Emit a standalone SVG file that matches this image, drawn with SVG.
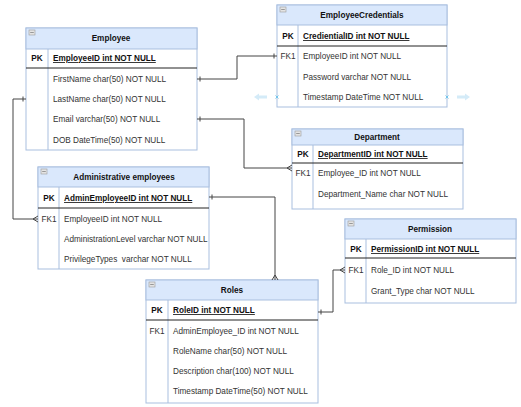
<svg xmlns="http://www.w3.org/2000/svg" width="521" height="407" viewBox="0 0 521 407">
<defs>
<style>
.box{fill:#ffffff;stroke:#a9bfdf;stroke-width:1}
.hdr{fill:#dae8fc;stroke:#a9bfdf;stroke-width:1}
.sep{stroke:#222;stroke-width:1}
.col{stroke:#a9bfdf;stroke-width:1}
.t{font-family:"Liberation Sans",Arial,sans-serif;font-size:8.2px;fill:#333}
.tb{font-family:"Liberation Sans",Arial,sans-serif;font-size:8.2px;font-weight:bold;fill:#111}
.u{text-decoration:underline}
.ic{fill:#e4e4e4;stroke:#9a9a9a;stroke-width:0.6}
.c{fill:none;stroke:#444;stroke-width:1}
.hint{fill:#d4ebf8}
.hx{stroke:#5bbde8;stroke-width:0.8}
</style>
<g id="icon"><rect class="ic" x="0" y="0" width="6" height="5"/><line x1="1.2" y1="2.5" x2="4.8" y2="2.5" stroke="#777" stroke-width="0.7"/></g>
</defs>

<g id="employee">
<rect class="box" x="26" y="28" width="171" height="122"/>
<rect class="hdr" x="26" y="28" width="171" height="21"/>
<use href="#icon" x="29" y="30"/>
<text class="tb" x="111" y="41" text-anchor="middle">Employee</text>
<line class="col" x1="48" y1="49" x2="48" y2="150"/>
<line class="sep" x1="26" y1="68" x2="197" y2="68"/>
<text class="tb" x="37" y="61" text-anchor="middle">PK</text>
<text class="tb u" x="53" y="61">EmployeeID int NOT NULL</text>
<text class="t" x="53" y="82">FirstName char(50) NOT NULL</text>
<text class="t" x="53" y="102">LastName char(50) NOT NULL</text>
<text class="t" x="53" y="122">Email varchar(50) NOT NULL</text>
<text class="t" x="53" y="143">DOB DateTime(50) NOT NULL</text>
</g>

<g id="employeecredentials">
<rect class="box" x="277" y="5" width="170" height="102"/>
<rect class="hdr" x="277" y="5" width="170" height="20"/>
<use href="#icon" x="280" y="7"/>
<text class="tb" x="362" y="18" text-anchor="middle">EmployeeCredentials</text>
<line class="col" x1="298" y1="25" x2="298" y2="107"/>
<line class="sep" x1="277" y1="46" x2="447" y2="46"/>
<text class="tb" x="288" y="39" text-anchor="middle">PK</text>
<text class="tb u" x="303" y="39">CredientialID int NOT NULL</text>
<text class="t" x="288" y="59" text-anchor="middle">FK1</text>
<text class="t" x="303" y="59">EmployeeID int NOT NULL</text>
<text class="t" x="303" y="80">Password varchar NOT NULL</text>
<text class="t" x="303" y="100">Timestamp DateTime NOT NULL</text>
</g>

<g id="department">
<rect class="box" x="292" y="129" width="171" height="80"/>
<rect class="hdr" x="292" y="129" width="171" height="16"/>
<use href="#icon" x="295" y="131"/>
<text class="tb" x="377" y="140" text-anchor="middle">Department</text>
<line class="col" x1="313" y1="145" x2="313" y2="209"/>
<line class="sep" x1="292" y1="163" x2="463" y2="163"/>
<text class="tb" x="303" y="157" text-anchor="middle">PK</text>
<text class="tb u" x="318" y="157">DepartmentID int NOT NULL</text>
<text class="t" x="303" y="176" text-anchor="middle">FK1</text>
<text class="t" x="318" y="176">Employee_ID int NOT NULL</text>
<text class="t" x="318" y="197">Department_Name char NOT NULL</text>
</g>

<g id="administrative-employees">
<rect class="box" x="38" y="167" width="171" height="102"/>
<rect class="hdr" x="38" y="167" width="171" height="20"/>
<use href="#icon" x="41" y="169"/>
<text class="tb" x="124" y="180" text-anchor="middle">Administrative employees</text>
<line class="col" x1="59" y1="187" x2="59" y2="269"/>
<line class="sep" x1="38" y1="208" x2="209" y2="208"/>
<text class="tb" x="49" y="201" text-anchor="middle">PK</text>
<text class="tb u" x="64" y="201">AdminEmployeeID int NOT NULL</text>
<text class="t" x="49" y="222" text-anchor="middle">FK1</text>
<text class="t" x="64" y="222">EmployeeID int NOT NULL</text>
<text class="t" x="64" y="242">AdministrationLevel varchar NOT NULL</text>
<text class="t" x="64" y="262" style="white-space:pre">PrivilegeTypes  varchar NOT NULL</text>
</g>

<g id="roles">
<rect class="box" x="146" y="280" width="172" height="123"/>
<rect class="hdr" x="146" y="280" width="172" height="20"/>
<use href="#icon" x="149" y="282"/>
<text class="tb" x="232" y="293" text-anchor="middle">Roles</text>
<line class="col" x1="168" y1="300" x2="168" y2="403"/>
<line class="sep" x1="146" y1="320" x2="318" y2="320"/>
<text class="tb" x="157" y="313" text-anchor="middle">PK</text>
<text class="tb u" x="173" y="313">RoleID int NOT NULL </text>
<text class="t" x="157" y="334" text-anchor="middle">FK1</text>
<text class="t" x="173" y="334">AdminEmployee_ID int NOT NULL</text>
<text class="t" x="173" y="354">RoleName char(50) NOT NULL</text>
<text class="t" x="173" y="374">Description char(100) NOT NULL</text>
<text class="t" x="173" y="394">Timestamp DateTime(50) NOT NULL</text>
</g>

<g id="permission">
<rect class="box" x="345" y="219" width="171" height="84"/>
<rect class="hdr" x="345" y="219" width="171" height="20"/>
<use href="#icon" x="348" y="221"/>
<text class="tb" x="430" y="232" text-anchor="middle">Permission</text>
<line class="col" x1="366" y1="239" x2="366" y2="303"/>
<line class="sep" x1="345" y1="258" x2="516" y2="258"/>
<text class="tb" x="356" y="252" text-anchor="middle">PK</text>
<text class="tb u" x="371" y="252">PermissionID int NOT NULL</text>
<text class="t" x="356" y="273" text-anchor="middle">FK1</text>
<text class="t" x="371" y="273">Role_ID int NOT NULL</text>
<text class="t" x="371" y="294">Grant_Type char NOT NULL</text>
</g>

<g id="connectors">
<path class="c" d="M197,79 H237 V56 H277"/>
<path class="c" d="M200,76.5 V81.5 M274,53.5 V58.5"/>
<path class="c" d="M197,119 H244 V168 H292"/>
<path class="c" d="M200,116.5 V121.5 M287,168 L292,165 M287,168 L292,171"/>
<path class="c" d="M26,99 H13 V219 H38"/>
<path class="c" d="M23,96.5 V101.5 M33,219 L38,216 M33,219 L38,222"/>
<path class="c" d="M209,197 H275 V280"/>
<path class="c" d="M212,194.5 V199.5 M275,275 L272,280 M275,275 L278,280"/>
<path class="c" d="M318,312 H333 V270 H345"/>
<path class="c" d="M321,309.5 V314.5 M340,270 L345,267 M340,270 L345,273"/>
</g>

<g id="hints">
<path class="hint" d="M254,97 L259,93.5 V95.5 H267 V98.5 H259 V100.5 Z"/>
<path class="hint" d="M470,97 L465,93.5 V95.5 H457 V98.5 H465 V100.5 Z"/>
<path class="hx" d="M275.5,95.5 L278.5,98.5 M278.5,95.5 L275.5,98.5"/>
<path class="hx" d="M445.5,95.5 L448.5,98.5 M448.5,95.5 L445.5,98.5"/>
</g>
</svg>
